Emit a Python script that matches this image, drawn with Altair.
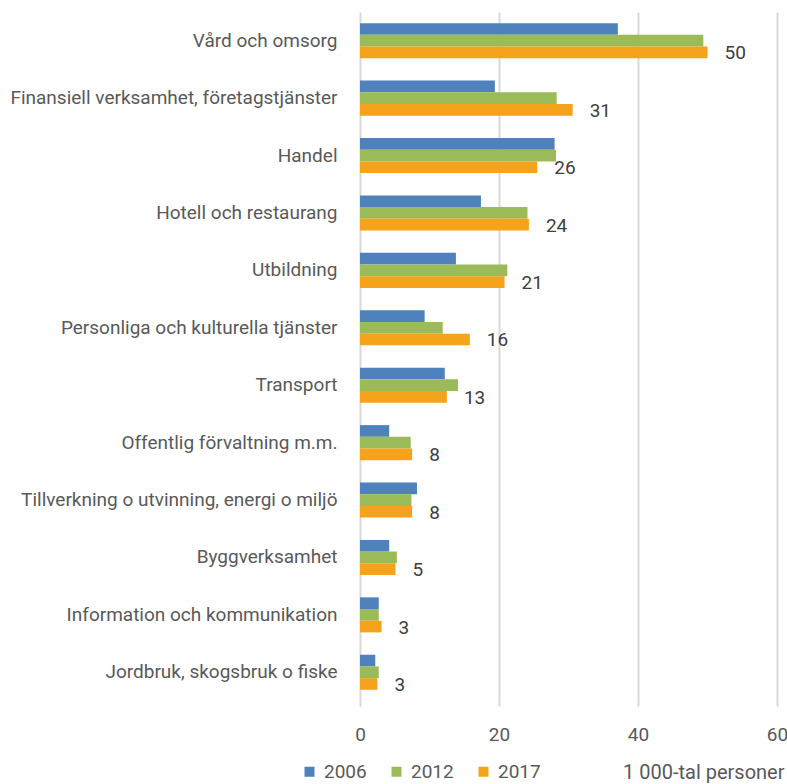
import altair as alt
import pandas as pd

categories = [
    "Vård och omsorg",
    "Finansiell verksamhet, företagstjänster",
    "Handel",
    "Hotell och restaurang",
    "Utbildning",
    "Personliga och kulturella tjänster",
    "Transport",
    "Offentlig förvaltning m.m.",
    "Tillverkning o utvinning, energi o miljö",
    "Byggverksamhet",
    "Information och kommunikation",
    "Jordbruk, skogsbruk o fiske",
]
years = ["2006", "2012", "2017"]
v2006 = [37.1, 19.4, 28.0, 17.4, 13.8, 9.3, 12.2, 4.2, 8.2, 4.2, 2.7, 2.2]
v2012 = [49.4, 28.3, 28.2, 24.1, 21.2, 11.9, 14.1, 7.3, 7.4, 5.3, 2.7, 2.7]
v2017 = [50.0, 30.6, 25.5, 24.3, 20.8, 15.8, 12.5, 7.5, 7.5, 5.1, 3.1, 2.5]
colors = ["#4F81BD", "#9BBB59", "#F5A31A"]

rows = []
for y, vals in zip(years, [v2006, v2012, v2017]):
    for c, v in zip(categories, vals):
        rows.append({"kategori": c, "år": y, "värde": v})
df = pd.DataFrame(rows)

FONT = "Roboto"
FS = 19

y_enc = alt.Y("kategori:N", sort=categories, title=None,
              scale=alt.Scale(paddingInner=0.39, paddingOuter=0.195),
              axis=alt.Axis(domain=False, ticks=False, labelPadding=23,
                            labelFontSize=FS, labelColor="#595959",
                            labelFont=FONT, labelLimit=400))
yoff = alt.YOffset("år:N", sort=years,
                   scale=alt.Scale(domain=years, paddingInner=0, paddingOuter=0))
x_enc = alt.X("värde:Q",
              scale=alt.Scale(domain=[0, 60], nice=False),
              axis=alt.Axis(values=[0, 20, 40, 60], grid=True, gridColor="#D9D9D9",
                            gridWidth=2, domain=False, ticks=True, tickColor="#D9D9D9",
                            tickWidth=2, tickSize=5, labelFontSize=FS,
                            labelColor="#595959", labelFont=FONT, labelPadding=19,
                            labelFlush=False, labelOverlap=False,
                            title="1 000-tal personer", titleFont=FONT,
                            titleFontSize=20, titleFontWeight="normal",
                            titleColor="#595959", titleAnchor="end",
                            titleAlign="right", titleBaseline="middle",
                            titleX=424, titleY=71))

bars = alt.Chart(df).mark_bar().encode(
    y=y_enc,
    yOffset=yoff,
    x=x_enc,
    color=alt.Color("år:N", sort=years,
                    scale=alt.Scale(domain=years, range=colors),
                    legend=alt.Legend(title=None, orient="none", direction="horizontal",
                                      legendX=-60, legendY=750, symbolType="square",
                                      symbolSize=100, symbolStrokeWidth=0,
                                      labelFontSize=FS, labelColor="#595959",
                                      labelFont=FONT, labelOffset=5,
                                      columnPadding=20)),
)

labels = alt.Chart(df).transform_filter(alt.datum["år"] == "2017").mark_text(
    align="left", baseline="middle", dx=17, dy=1, fontSize=FS,
    font=FONT, color="#404040"
).encode(
    y=alt.Y("kategori:N", sort=categories),
    yOffset=yoff,
    x=alt.X("värde:Q"),
    text=alt.Text("värde:Q", format=".0f"),
)

chart = alt.layer(bars, labels).properties(
    width=417, height=689,
    autosize=alt.AutoSizeParams(type="none"),
    padding={"left": 360, "top": 12, "right": 10, "bottom": 83},
    background="white",
).configure_view(stroke=None)

chart.save("out.html", embed_options={"renderer": "svg", "actions": False})
